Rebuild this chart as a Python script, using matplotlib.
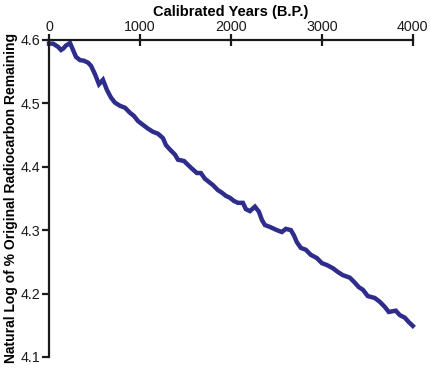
import matplotlib
matplotlib.use('agg')
import matplotlib.pyplot as plt

plt.rcParams['font.family'] = ['Liberation Sans', 'DejaVu Sans']

# calibrated years B.P. vs ln(% original radiocarbon remaining)
years = [0, 44, 99, 132, 154, 187, 231, 264, 297, 341, 385, 429, 462, 505,
         549, 593, 637, 681, 725, 780, 835, 890, 934, 978, 1033, 1088, 1143,
         1198, 1253, 1286, 1330, 1385, 1418, 1484, 1527, 1571, 1626, 1670,
         1714, 1758, 1802, 1857, 1901, 1945, 1989, 2033, 2077, 2132, 2165,
         2209, 2264, 2308, 2341, 2374, 2429, 2505, 2560, 2604, 2659, 2692,
         2725, 2769, 2824, 2879, 2945, 3000, 3055, 3121, 3176, 3231, 3308,
         3363, 3407, 3451, 3505, 3582, 3637, 3692, 3736, 3813, 3857, 3912,
         3956, 4000]
ln_remaining = [4.594, 4.594, 4.589, 4.584, 4.586, 4.591, 4.595, 4.584,
                4.573, 4.568, 4.567, 4.564, 4.559, 4.546, 4.530, 4.537,
                4.521, 4.509, 4.501, 4.496, 4.493, 4.485, 4.480, 4.472,
                4.466, 4.460, 4.455, 4.452, 4.445, 4.434, 4.427, 4.419,
                4.411, 4.409, 4.403, 4.397, 4.390, 4.390, 4.381, 4.376,
                4.371, 4.363, 4.359, 4.354, 4.351, 4.346, 4.343, 4.343,
                4.333, 4.330, 4.337, 4.329, 4.316, 4.308, 4.305, 4.300,
                4.297, 4.302, 4.300, 4.292, 4.281, 4.272, 4.269, 4.261,
                4.256, 4.248, 4.245, 4.240, 4.234, 4.229, 4.225, 4.217,
                4.210, 4.206, 4.196, 4.193, 4.187, 4.179, 4.171, 4.173,
                4.166, 4.162, 4.155, 4.149]

xticks = [0, 1000, 2000, 3000, 4000]
yticks = [4.1, 4.2, 4.3, 4.4, 4.5, 4.6]

fig = plt.figure(figsize=(4.3, 3.74), dpi=100)
ax = fig.add_axes([0.114, 0.0455, 0.846, 0.848])

ax.plot(years, ln_remaining, color='#2e2d8c', lw=3.2, solid_joinstyle='miter',
        clip_on=False)

ax.set_xlim(0, 4000)
ax.set_ylim(4.1, 4.6)
ax.set_xticks(xticks)
ax.set_yticks(yticks)
ax.set_yticklabels(['{:.1f}'.format(v) for v in yticks])

ax.xaxis.tick_top()
ax.xaxis.set_label_position('top')
for side in ['bottom', 'right']:
    ax.spines[side].set_visible(False)
for side in ['top', 'left']:
    ax.spines[side].set_linewidth(1.6)
    ax.spines[side].set_color('#1a1a1a')

ax.tick_params(axis='x', direction='inout', length=8, width=1.6,
               labelsize=10.3, pad=0, colors='#1a1a1a')
ax.tick_params(axis='y', direction='out', length=5, width=1.6,
               labelsize=10.3, pad=1, colors='#1a1a1a')

ax.set_xlabel('Calibrated Years (B.P.)', fontsize=10.5, fontweight='bold',
              labelpad=3)
ax.set_ylabel('Natural Log of % Original Radiocarbon Remaining', fontsize=10,
              fontweight='bold', labelpad=2)

fig.savefig('out.png', dpi=100)
plt.close()
